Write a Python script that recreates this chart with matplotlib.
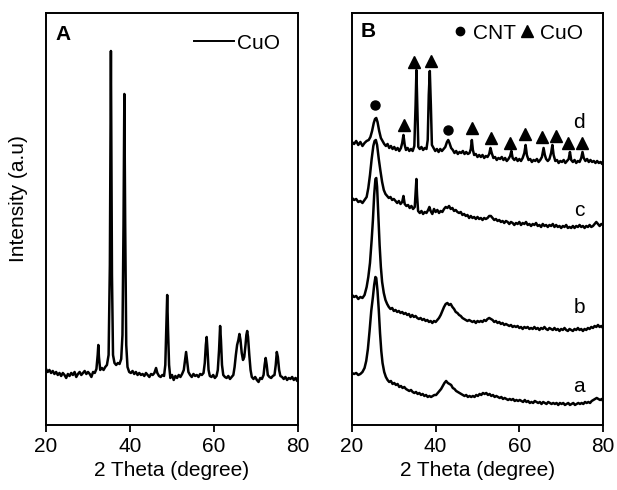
"""XRD patterns: (A) CuO, (B) CNT / CuO composites a-d."""
import matplotlib
matplotlib.use("Agg")
import matplotlib.pyplot as plt
from matplotlib.lines import Line2D

plt.rcParams["font.family"] = ["Liberation Sans", "DejaVu Sans"]

# ---- panel A : CuO -------------------------------------------------------
CUO_X = [
    20.0, 20.4, 20.8, 21.2, 21.6, 22.0, 22.4, 22.8, 23.2, 23.6, 24.0, 24.4, 24.8,
    25.2, 25.6, 26.0, 26.4, 26.8, 27.2, 27.6, 28.0, 28.4, 28.8, 29.2, 29.6, 30.0,
    30.4, 30.8, 31.2, 31.6, 32.0, 32.3, 32.45, 32.6, 32.9, 33.3, 33.7, 34.1, 34.5,
    34.9, 35.2, 35.45, 35.7, 35.95, 36.3, 36.7, 37.1, 37.5, 37.9, 38.2, 38.45,
    38.65, 38.85, 39.1, 39.4, 39.8, 40.2, 40.6, 41.0, 41.4, 41.8, 42.2, 42.6, 43.0,
    43.4, 43.8, 44.2, 44.6, 45.0, 45.4, 45.8, 46.2, 46.5, 46.9, 47.3, 47.7, 48.1,
    48.4, 48.65, 48.85, 49.05, 49.3, 49.6, 50.0, 50.4, 50.8, 51.2, 51.6, 52.0,
    52.4, 52.8, 53.1, 53.35, 53.6, 53.9, 54.3, 54.7, 55.1, 55.5, 55.9, 56.3, 56.7,
    57.1, 57.5, 57.8, 58.05, 58.25, 58.45, 58.7, 59.0, 59.4, 59.8, 60.2, 60.6,
    60.9, 61.2, 61.45, 61.65, 61.9, 62.2, 62.6, 63.0, 63.4, 63.8, 64.2, 64.6, 64.9,
    65.2, 65.5, 65.8, 66.05, 66.3, 66.6, 66.9, 67.2, 67.5, 67.7, 67.9, 68.1, 68.4,
    68.7, 69.0, 69.4, 69.8, 70.2, 70.6, 71.0, 71.4, 71.8, 72.05, 72.3, 72.55, 72.8,
    73.2, 73.6, 74.0, 74.4, 74.7, 74.95, 75.2, 75.5, 75.8, 76.2, 76.6, 77.0, 77.4,
    77.8, 78.2, 78.6, 79.0, 79.4, 79.8, 80.0,
]
CUO_Y = [
    56, 53, 55, 52, 54, 51, 53, 50, 52, 49, 52, 50, 47,
    51, 49, 52, 50, 53, 48, 51, 53, 50, 52, 54, 51, 53,
    51, 48, 53, 52, 56, 70, 80, 68, 55, 57, 55, 58, 60,
    70, 160, 374, 150, 70, 62, 60, 62, 61, 66, 90, 200,
    331, 200, 80, 58, 53, 52, 54, 51, 53, 50, 52, 50, 51,
    49, 52, 50, 48, 51, 50, 52, 57, 52, 49, 48, 50, 49,
    60, 100, 130, 95, 60, 47, 50, 45, 49, 47, 50, 48,
    51, 55, 65, 73, 64, 53, 50, 48, 51, 49, 50, 48, 51,
    50, 52, 62, 80, 88, 75, 55, 49, 48, 50, 47, 49,
    55, 75, 99, 85, 60, 50, 48, 47, 49, 46, 48, 50, 58,
    70, 80, 85, 91, 85, 72, 65, 68, 80, 90, 94, 88, 70,
    55, 48, 46, 48, 45, 43, 47, 46, 50, 60, 67, 60, 50,
    48, 47, 49, 50, 60, 73, 68, 55, 49, 48, 46, 48, 45,
    47, 46, 48, 45, 47, 44, 47,
]

# ---- panel B : samples a-d ----------------------------------------------
D_X = [
    20.0, 20.5, 21.0, 21.5, 22.0, 22.5, 23.0, 23.5, 24.0, 24.4, 24.8, 25.2, 25.5,
    25.8, 26.1, 26.5, 26.9, 27.3, 27.7, 28.1, 28.5, 28.9, 29.3, 29.7, 30.1, 30.5,
    30.9, 31.3, 31.7, 32.0, 32.3, 32.6, 32.9, 33.3, 33.7, 34.1, 34.5, 34.9, 35.2,
    35.4, 35.6, 35.85, 36.2, 36.6, 37.0, 37.4, 37.8, 38.1, 38.35, 38.6, 38.85,
    39.1, 39.5, 39.9, 40.3, 40.7, 41.1, 41.5, 41.9, 42.3, 42.7, 43.0, 43.3, 43.7,
    44.1, 44.5, 44.9, 45.3, 45.7, 46.1, 46.5, 46.9, 47.3, 47.7, 48.1, 48.4, 48.65,
    48.9, 49.2, 49.6, 50.0, 50.4, 50.8, 51.2, 51.6, 52.0, 52.4, 52.8, 53.1, 53.4,
    53.8, 54.2, 54.6, 55.0, 55.4, 55.8, 56.2, 56.6, 57.0, 57.4, 57.8, 58.1, 58.4,
    58.8, 59.2, 59.6, 60.0, 60.4, 60.8, 61.2, 61.5, 61.8, 62.2, 62.6, 63.0, 63.4,
    63.8, 64.2, 64.6, 65.0, 65.4, 65.8, 66.1, 66.4, 66.8, 67.2, 67.6, 67.9, 68.2,
    68.6, 69.0, 69.4, 69.8, 70.2, 70.6, 71.0, 71.4, 71.8, 72.1, 72.4, 72.8, 73.2,
    73.6, 74.0, 74.4, 74.8, 75.1, 75.4, 75.8, 76.2, 76.6, 77.0, 77.4, 77.8, 78.2,
    78.6, 79.0, 79.4, 79.8, 80.0,
]
D_Y = [
    283, 281, 284, 280, 283, 279, 282, 284, 285, 288, 294, 302, 306,
    307, 303, 294, 287, 284, 281, 279, 281, 277, 279, 276, 278, 275,
    277, 274, 277, 282, 290, 280, 275, 277, 274, 276, 274, 279, 320,
    355, 320, 278, 276, 278, 275, 277, 276, 285, 330, 354, 320,
    280, 277, 274, 276, 273, 276, 274, 276, 278, 283, 285, 282, 277,
    275, 272, 274, 271, 273, 272, 274, 271, 273, 271, 272, 276, 285,
    275, 270, 271, 268, 270, 268, 270, 267, 269, 268, 271, 277, 272,
    267, 268, 265, 267, 266, 268, 265, 267, 264, 266, 269, 274, 267,
    265, 267, 264, 266, 264, 267, 272, 280, 270, 265, 266, 263, 265,
    264, 266, 263, 265, 268, 277, 270, 266, 264, 266, 272, 280, 270,
    264, 265, 262, 264, 263, 265, 262, 264, 266, 273, 265, 263, 265,
    262, 264, 263, 267, 273, 267, 264, 266, 263, 265, 263, 264, 262,
    264, 262, 263, 261, 263,
]

C_X = [
    20.0, 20.5, 21.0, 21.5, 22.0, 22.5, 23.0, 23.5, 23.9, 24.3, 24.7, 25.1, 25.4,
    25.7, 26.0, 26.4, 26.8, 27.2, 27.6, 28.0, 28.4, 28.8, 29.2, 29.6, 30.0, 30.4,
    30.8, 31.2, 31.6, 32.0, 32.3, 32.6, 33.0, 33.4, 33.8, 34.2, 34.6, 35.0, 35.25,
    35.4, 35.55, 35.8, 36.2, 36.6, 37.0, 37.4, 37.8, 38.2, 38.5, 38.8, 39.2, 39.6,
    40.0, 40.4, 40.8, 41.2, 41.6, 42.0, 42.4, 42.8, 43.2, 43.6, 44.0, 44.4, 44.8,
    45.2, 45.6, 46.0, 46.4, 46.8, 47.2, 47.6, 48.0, 48.4, 48.8, 49.2, 49.6, 50.0,
    50.4, 50.8, 51.2, 51.6, 52.0, 52.4, 52.8, 53.2, 53.6, 54.0, 54.4, 54.8, 55.2,
    55.6, 56.0, 56.4, 56.8, 57.2, 57.6, 58.0, 58.4, 58.8, 59.2, 59.6, 60.0, 60.4,
    60.8, 61.2, 61.6, 62.0, 62.4, 62.8, 63.2, 63.6, 64.0, 64.4, 64.8, 65.2, 65.6,
    66.0, 66.4, 66.8, 67.2, 67.6, 68.0, 68.4, 68.8, 69.2, 69.6, 70.0, 70.4, 70.8,
    71.2, 71.6, 72.0, 72.4, 72.8, 73.2, 73.6, 74.0, 74.4, 74.8, 75.2, 75.6, 76.0,
    76.4, 76.8, 77.2, 77.6, 78.0, 78.4, 78.8, 79.2, 79.6, 80.0,
]
C_Y = [
    227, 225, 226, 223, 224, 222, 225, 228, 237, 250, 266, 279, 284,
    285, 280, 266, 254, 243, 235, 231, 229, 227, 228, 225, 226, 224,
    222, 224, 221, 223, 229, 221, 219, 220, 217, 219, 216, 218, 235,
    246, 230, 214, 212, 214, 211, 213, 212, 215, 218, 214, 211, 216,
    213, 215, 212, 214, 213, 216, 218, 217, 219, 216, 217, 214, 215,
    213, 212, 213, 210, 211, 209, 210, 207, 209, 207, 208, 206, 208,
    206, 207, 205, 207, 206, 207, 209, 209, 207, 205, 206, 204, 205,
    203, 204, 202, 204, 203, 201, 203, 202, 200, 202, 201, 203, 200,
    202, 201, 203, 200, 201, 199, 201, 200, 202, 199, 200, 198, 201,
    199, 200, 198, 200, 199, 201, 198, 200, 198, 199, 197, 199, 198,
    200, 197, 198, 197, 199, 197, 199, 198, 200, 198, 199, 197, 199,
    198, 200, 198, 199, 201, 203, 201, 199, 201, 200,
]

B_X = [
    20.0, 20.5, 21.0, 21.5, 22.0, 22.5, 23.0, 23.5, 23.9, 24.3, 24.7, 25.0, 25.3,
    25.6, 25.8, 26.0, 26.3, 26.6, 26.9, 27.2, 27.6, 28.0, 28.4, 28.8, 29.2, 29.6,
    30.0, 30.4, 30.8, 31.2, 31.6, 32.0, 32.4, 32.8, 33.2, 33.6, 34.0, 34.4, 34.8,
    35.2, 35.6, 36.0, 36.4, 36.8, 37.2, 37.6, 38.0, 38.4, 38.8, 39.2, 39.6, 40.0,
    40.4, 40.8, 41.2, 41.6, 42.0, 42.4, 42.8, 43.2, 43.6, 44.0, 44.4, 44.8, 45.2,
    45.6, 46.0, 46.4, 46.8, 47.2, 47.6, 48.0, 48.4, 48.8, 49.2, 49.6, 50.0, 50.4,
    50.8, 51.2, 51.6, 52.0, 52.4, 52.8, 53.2, 53.6, 54.0, 54.4, 54.8, 55.2, 55.6,
    56.0, 56.4, 56.8, 57.2, 57.6, 58.0, 58.4, 58.8, 59.2, 59.6, 60.0, 60.4, 60.8,
    61.2, 61.6, 62.0, 62.4, 62.8, 63.2, 63.6, 64.0, 64.4, 64.8, 65.2, 65.6, 66.0,
    66.4, 66.8, 67.2, 67.6, 68.0, 68.4, 68.8, 69.2, 69.6, 70.0, 70.4, 70.8, 71.2,
    71.6, 72.0, 72.4, 72.8, 73.2, 73.6, 74.0, 74.4, 74.8, 75.2, 75.6, 76.0, 76.4,
    76.8, 77.2, 77.6, 78.0, 78.4, 78.8, 79.2, 79.6, 80.0,
]
B_Y = [
    130, 128, 129, 126, 128, 127, 130, 138, 148, 162, 185, 205, 230,
    246, 247, 238, 208, 180, 158, 143, 132, 125, 121, 118, 116, 117,
    114, 115, 113, 114, 112, 113, 111, 112, 110, 111, 108, 110, 108,
    109, 107, 106, 107, 105, 106, 104, 105, 103, 104, 102, 104, 103,
    105, 107, 110, 114, 118, 121, 122, 120, 121, 118, 116, 113, 112,
    110, 109, 107, 106, 105, 104, 105, 104, 103, 104, 102, 104, 103,
    104, 103, 105, 104, 106, 107, 106, 105, 103, 104, 102, 103, 101,
    102, 100, 101, 100, 99, 100, 98, 99, 98, 99, 97, 98, 96,
    98, 97, 98, 96, 97, 96, 98, 96, 97, 95, 97, 96, 98,
    96, 95, 97, 96, 95, 97, 95, 96, 94, 96, 95, 97, 95,
    94, 96, 95, 94, 96, 95, 97, 95, 96, 94, 96, 95, 97,
    96, 98, 97, 99, 98, 100, 98, 99, 97,
]

A_X = [
    20.0, 20.5, 21.0, 21.5, 22.0, 22.5, 23.0, 23.4, 23.8, 24.2, 24.6, 25.0, 25.3,
    25.6, 25.8, 26.1, 26.4, 26.7, 27.0, 27.3, 27.7, 28.1, 28.5, 28.9, 29.3, 29.7,
    30.1, 30.5, 30.9, 31.3, 31.7, 32.1, 32.5, 32.9, 33.3, 33.7, 34.1, 34.5, 34.9,
    35.3, 35.7, 36.1, 36.5, 36.9, 37.3, 37.7, 38.1, 38.5, 38.9, 39.3, 39.7, 40.1,
    40.5, 40.9, 41.3, 41.7, 42.1, 42.5, 42.9, 43.3, 43.7, 44.1, 44.5, 44.9, 45.3,
    45.7, 46.1, 46.5, 46.9, 47.3, 47.7, 48.1, 48.5, 48.9, 49.3, 49.7, 50.1, 50.5,
    50.9, 51.3, 51.7, 52.1, 52.5, 52.9, 53.3, 53.7, 54.1, 54.5, 54.9, 55.3, 55.7,
    56.1, 56.5, 56.9, 57.3, 57.7, 58.1, 58.5, 58.9, 59.3, 59.7, 60.1, 60.5, 60.9,
    61.3, 61.7, 62.1, 62.5, 62.9, 63.3, 63.7, 64.1, 64.5, 64.9, 65.3, 65.7, 66.1,
    66.5, 66.9, 67.3, 67.7, 68.1, 68.5, 68.9, 69.3, 69.7, 70.1, 70.5, 70.9, 71.3,
    71.7, 72.1, 72.5, 72.9, 73.3, 73.7, 74.1, 74.5, 74.9, 75.3, 75.7, 76.1, 76.5,
    76.9, 77.3, 77.7, 78.1, 78.5, 78.9, 79.3, 79.7, 80.0,
]
A_Y = [
    52, 51, 52, 50, 51, 53, 57, 64, 76, 94, 114, 128, 140,
    148, 147, 134, 115, 92, 74, 62, 53, 48, 45, 43, 44, 41,
    42, 40, 41, 38, 39, 37, 38, 36, 35, 34, 35, 33, 32,
    33, 31, 32, 30, 31, 29, 30, 28, 29, 28, 29, 30, 30,
    32, 34, 36, 39, 42, 44, 42, 41, 40, 37, 36, 34, 33,
    32, 31, 30, 29, 30, 28, 29, 28, 29, 28, 30, 29, 31,
    30, 32, 31, 32, 30, 31, 29, 30, 28, 29, 28, 27, 28,
    26, 27, 26, 25, 26, 25, 26, 24, 25, 24, 25, 24, 23,
    25, 23, 24, 22, 23, 22, 24, 23, 22, 23, 21, 23, 22,
    21, 23, 22, 21, 22, 21, 22, 20, 22, 21, 22, 20, 21,
    22, 20, 21, 22, 20, 21, 22, 21, 22, 21, 23, 22, 23,
    22, 24, 25, 26, 27, 26, 25, 26, 24,
]

SAMPLE_LABELS = ["a", "b", "c", "d"]
SAMPLE_LABEL_Y = [38, 117, 214, 302]
SAMPLE_LABEL_X = 74.3

# peak markers above curve d
CNT_MARK_X = [25.5, 43.0]
CNT_MARK_Y = [320, 295]
CUO_MARK_X = [32.4, 34.9, 39.0, 48.8, 53.2, 57.8, 61.4, 65.3, 68.7, 71.7, 75.1]
CUO_MARK_Y = [300, 363, 364, 297, 287, 282, 291, 288, 289, 282, 282]

XTICKS = [20, 40, 60, 80]
FS = 15
LW = 1.8


def style_axes(ax):
    ax.set_xlim(20, 80)
    ax.set_ylim(0, 412)
    ax.set_xticks(XTICKS)
    ax.set_yticks([])
    ax.tick_params(axis="x", direction="out", length=5, width=1.3,
                   labelsize=FS, pad=4)
    for sp in ax.spines.values():
        sp.set_linewidth(1.4)
    ax.set_xlabel("2 Theta (degree)", fontsize=FS, labelpad=3)


fig = plt.figure(figsize=(6.17, 4.90), dpi=100)
axA = fig.add_axes([0.0746, 0.1327, 0.4084, 0.8408])
axB = fig.add_axes([0.5705, 0.1327, 0.4068, 0.8408])

# panel A
axA.plot(CUO_X, CUO_Y, color="k", lw=LW)
style_axes(axA)
axA.text(0.067, 0.947, "A", transform=axA.transAxes, fontsize=FS,
         fontweight="bold", ha="center", va="center")
axA.legend(handles=[Line2D([], [], color="k", lw=1.4)], labels=["CuO"],
           loc="center right", bbox_to_anchor=(0.929, 0.927), frameon=False,
           fontsize=FS, handlelength=1.9, handletextpad=0.15,
           borderpad=0, borderaxespad=0)

# panel B
for xs, ys in [(A_X, A_Y), (B_X, B_Y), (C_X, C_Y), (D_X, D_Y)]:
    axB.plot(xs, ys, color="k", lw=LW)
for lab, ly in zip(SAMPLE_LABELS, SAMPLE_LABEL_Y):
    axB.text(SAMPLE_LABEL_X, ly, lab, fontsize=FS, ha="center", va="center")
axB.plot(CNT_MARK_X, CNT_MARK_Y, "o", color="k", ms=6.5)
axB.plot(CUO_MARK_X, CUO_MARK_Y, "^", color="k", ms=8)
style_axes(axB)
axB.text(0.064, 0.956, "B", transform=axB.transAxes, fontsize=FS,
         fontweight="bold", ha="center", va="center")
hB = [Line2D([], [], ls="", marker="o", color="k", ms=6),
      Line2D([], [], ls="", marker="^", color="k", ms=8)]
axB.legend(handles=hB, labels=["CNT", "CuO"], ncol=2, loc="center right",
           bbox_to_anchor=(0.92, 0.951), frameon=False, fontsize=FS,
           handlelength=0.7, handletextpad=0.25, columnspacing=0.2,
           borderpad=0, borderaxespad=0)

fig.text(19 / 617, 1 - 199 / 490, "Intensity (a.u)", rotation=90,
         fontsize=FS, ha="center", va="center")

fig.savefig("out.png", dpi=100)
